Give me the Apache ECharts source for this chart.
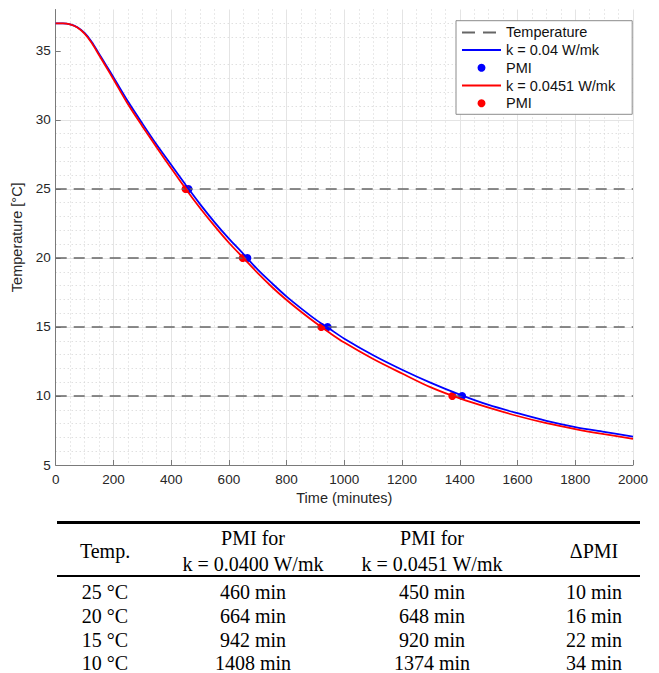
<!DOCTYPE html>
<html>
<head>
<meta charset="utf-8">
<script src="https://cdn.jsdelivr.net/npm/echarts@6/dist/echarts.min.js"></script>
<style>
html, body { margin: 0; padding: 0; background: #ffffff; }
#c { width: 659px; height: 673px; }
</style>
</head>
<body>
<div id="c"></div>
<script>
// ---------- data ----------
const timeMinutes = [0, 25, 50, 75, 100, 125, 150, 175, 200, 250, 300, 350, 400, 450, 500, 550, 600, 650, 700, 750, 800, 850, 900, 950, 1000, 1100, 1200, 1300, 1400, 1500, 1600, 1700, 1800, 1900, 2000];
const tempK040 = [37.0, 37.0, 36.93, 36.72, 36.3, 35.65, 34.8, 33.95, 33.1, 31.35, 29.75, 28.2, 26.75, 25.3, 23.9, 22.6, 21.4, 20.3, 19.15, 18.15, 17.2, 16.35, 15.55, 14.85, 14.15, 12.95, 11.9, 10.95, 10.1, 9.35, 8.75, 8.2, 7.75, 7.4, 7.05];
const tempK0451 = [37.0, 37.0, 36.93, 36.7, 36.25, 35.57, 34.7, 33.83, 32.95, 31.15, 29.55, 28.0, 26.5, 25.02, 23.62, 22.32, 21.1, 20.0, 18.9, 17.88, 16.95, 16.1, 15.3, 14.56, 13.87, 12.68, 11.63, 10.62, 9.82, 9.15, 8.55, 8.03, 7.6, 7.23, 6.9];
const isothermTemps = [25, 20, 15, 10];
const pmiK040 = [460, 664, 942, 1408];
const pmiK0451 = [450, 648, 920, 1374];
const deltaPMI = [10, 16, 22, 34];
const xTicks = [0, 200, 400, 600, 800, 1000, 1200, 1400, 1600, 1800, 2000];
const yTicks = [5, 10, 15, 20, 25, 30, 35];
const seriesNames = ['Temperature', 'k = 0.04 W/mk', 'PMI', 'k = 0.0451 W/mk', 'PMI '];
const tableHeadTop = ['', 'PMI for', 'PMI for', ''];
const tableHeadBottom = ['', 'k = 0.0400 W/mk', 'k = 0.0451 W/mk', ''];
const tableHeadMid = ['Temp.', '', '', '\u0394PMI'];

// ---------- build series data ----------
const tStart = xTicks[0], tEnd = xTicks[xTicks.length - 1];
const isoData = [];
isothermTemps.forEach(function (T, i) {
  if (i > 0) isoData.push([tEnd, '-']);
  isoData.push([tStart, T]);
  isoData.push([tEnd, T]);
});
const curve1 = timeMinutes.map(function (t, i) { return [t, tempK040[i]]; });
const curve2 = timeMinutes.map(function (t, i) { return [t, tempK0451[i]]; });
const pts1 = pmiK040.map(function (t, i) { return [t, isothermTemps[i]]; });
const pts2 = pmiK0451.map(function (t, i) { return [t, isothermTemps[i]]; });

// ---------- table as graphic text ----------
const colX = [105, 253, 432, 594];
const rowY = [592, 616, 640, 663];
const serif = '20px "Liberation Serif", "Times New Roman", serif';
function txt(s, x, y) {
  return { type: 'text', x: x, y: y, silent: true,
    style: { text: s, font: serif, fill: '#000', align: 'center', verticalAlign: 'middle', textAlign: 'center', textVerticalAlign: 'middle' } };
}
const graphics = [
  { type: 'rect', silent: true, shape: { x: 57, y: 521, width: 583, height: 3 }, style: { fill: '#000' } },
  { type: 'rect', silent: true, shape: { x: 57, y: 575, width: 583, height: 2 }, style: { fill: '#000' } }
];
for (let c = 0; c < 4; c++) {
  if (tableHeadMid[c]) graphics.push(txt(tableHeadMid[c], colX[c], 551));
  if (tableHeadTop[c]) graphics.push(txt(tableHeadTop[c], colX[c], 538));
  if (tableHeadBottom[c]) graphics.push(txt(tableHeadBottom[c], colX[c], 564));
}
isothermTemps.forEach(function (T, r) {
  graphics.push(txt(T + ' \u00B0C', colX[0], rowY[r]));
  graphics.push(txt(pmiK040[r] + ' min', colX[1], rowY[r]));
  graphics.push(txt(pmiK0451[r] + ' min', colX[2], rowY[r]));
  graphics.push(txt(deltaPMI[r] + ' min', colX[3], rowY[r]));
});

// ---------- chart ----------
const axisColor = '#7a7a7a';
const labelColor = '#262626';
const sans = '"Liberation Sans", Arial, Helvetica, sans-serif';
const chart = echarts.init(document.getElementById('c'), null, { renderer: 'svg', width: 659, height: 673 });
chart.setOption({
  animation: false,
  backgroundColor: '#ffffff',
  textStyle: { fontFamily: sans },
  grid: { left: 55.7, top: 9.5, width: 577.3, height: 455.5 },
  xAxis: {
    type: 'value', min: tStart, max: tEnd, interval: 200,
    name: 'Time (minutes)', nameLocation: 'middle', nameGap: 25,
    nameTextStyle: { fontSize: 14.5, color: labelColor, fontFamily: sans },
    axisLine: { show: true, onZero: false, lineStyle: { color: axisColor, width: 1 } },
    axisTick: { show: true, inside: true, length: 5, lineStyle: { color: axisColor } },
    axisLabel: { fontSize: 13.5, color: labelColor, margin: 7, fontFamily: sans,
      formatter: function (v) { return String(v); } },
    splitLine: { show: true, lineStyle: { color: '#e4e4e4', width: 1 } },
    minorTick: { show: false, splitNumber: 4 },
    minorSplitLine: { show: true, lineStyle: { color: '#d2d2d2', width: 1, type: [1, 3] } }
  },
  yAxis: {
    type: 'value', min: 5, max: 38, interval: 5,
    name: 'Temperature [\u00B0C]', nameLocation: 'middle', nameGap: 25, nameRotate: 90,
    nameTextStyle: { fontSize: 14.5, color: labelColor, fontFamily: sans },
    axisLine: { show: true, onZero: false, lineStyle: { color: axisColor, width: 1 } },
    axisTick: { show: true, inside: true, length: 5, lineStyle: { color: axisColor }, customValues: yTicks },
    axisLabel: { fontSize: 13.5, color: labelColor, margin: 5, fontFamily: sans, customValues: yTicks },
    splitLine: { show: true, showMaxLine: false, lineStyle: { color: '#e4e4e4', width: 1 } },
    minorTick: { show: false, splitNumber: 5 },
    minorSplitLine: { show: true, lineStyle: { color: '#d2d2d2', width: 1, type: [1, 3] } }
  },
  legend: {
    orient: 'vertical', left: 456, top: 20.7,
    itemWidth: 39, itemHeight: 8, itemGap: 2.7,
    padding: [4.2, 17, 3.6, 5],
    borderColor: '#8c8c8c', borderWidth: 1, backgroundColor: '#ffffff',
    selectedMode: false,
    textStyle: { fontSize: 14.5, color: '#111111', lineHeight: 15, fontFamily: sans },
    formatter: function (n) { return n.trim(); },
    data: [
      { name: seriesNames[0], itemStyle: { opacity: 0 }, lineStyle: { type: [13, 8, 13, 10] } },
      { name: seriesNames[1], itemStyle: { opacity: 0 } },
      { name: seriesNames[2] },
      { name: seriesNames[3], itemStyle: { opacity: 0 } },
      { name: seriesNames[4] }
    ]
  },
  series: [
    { name: seriesNames[0], type: 'line', data: isoData, symbol: 'none', connectNulls: false, silent: true,
      lineStyle: { color: '#666666', width: 1.6, type: [11, 7] }, itemStyle: { color: '#666666' } },
    { name: seriesNames[1], type: 'line', data: curve1, symbol: 'none', smooth: 0.3, silent: true,
      lineStyle: { color: '#0000ff', width: 1.8 }, itemStyle: { color: '#0000ff' } },
    { name: seriesNames[2], type: 'scatter', data: pts1, symbol: 'circle', symbolSize: 8, silent: true,
      itemStyle: { color: '#0000ff', opacity: 1 } },
    { name: seriesNames[3], type: 'line', data: curve2, symbol: 'none', smooth: 0.3, silent: true,
      lineStyle: { color: '#ff0000', width: 1.8 }, itemStyle: { color: '#ff0000' } },
    { name: seriesNames[4], type: 'scatter', data: pts2, symbol: 'circle', symbolSize: 8, silent: true,
      itemStyle: { color: '#ff0000', opacity: 1 } }
  ],
  graphic: { elements: graphics }
});
</script>
</body>
</html>
